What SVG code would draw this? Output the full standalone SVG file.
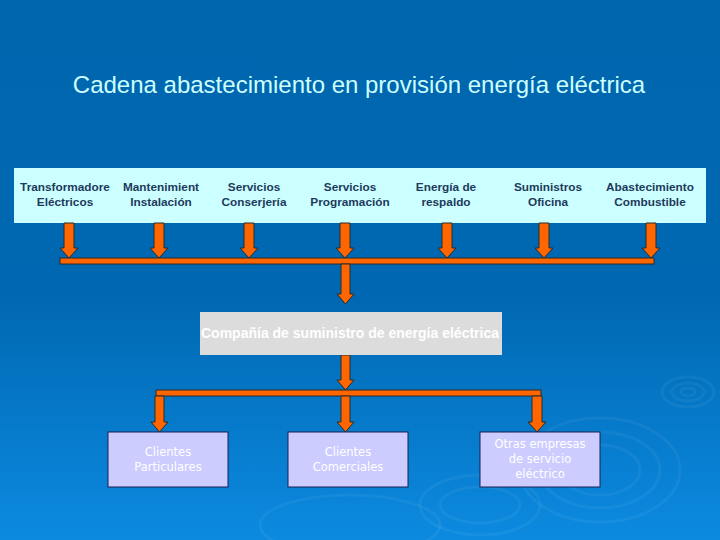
<svg xmlns="http://www.w3.org/2000/svg" width="720" height="540" viewBox="0 0 720 540">
<defs>
<linearGradient id="bg" x1="0" y1="0" x2="0" y2="1">
<stop offset="0" stop-color="#0066AE"/>
<stop offset="0.55" stop-color="#0068B2"/>
<stop offset="1" stop-color="#0C8AE0"/>
</linearGradient>
<style>
.title{font-family:"Liberation Sans",Arial,sans-serif;font-size:24px;fill:#CCFFFF;text-anchor:middle}
.top{font-family:"Liberation Sans",Arial,sans-serif;font-size:11.8px;font-weight:bold;fill:#1E3A5C;text-anchor:middle}
.comp{font-family:"Liberation Sans",Arial,sans-serif;font-size:14px;font-weight:bold;fill:#FFFFFF;text-anchor:middle}
.cli{font-family:"DejaVu Sans",Verdana,sans-serif;font-size:11.5px;fill:#FFFFFF;text-anchor:middle}
.arr{fill:#FF6600;stroke:#2A2A2A;stroke-width:1}
.cbox{fill:#CCCCFF;stroke:#1A2050;stroke-width:1}
.rip{fill:none;stroke:#FFFFFF;stroke-opacity:0.05;stroke-width:3}
</style>
</defs>
<rect x="0" y="0" width="720" height="540" fill="url(#bg)"/>
<g id="ripples">
<ellipse class="rip" cx="688" cy="392" rx="26" ry="15"/>
<ellipse class="rip" cx="688" cy="392" rx="16" ry="9"/>
<ellipse class="rip" cx="688" cy="392" rx="7" ry="4"/>
<ellipse class="rip" cx="600" cy="470" rx="80" ry="52"/>
<ellipse class="rip" cx="600" cy="470" rx="60" ry="38"/>
<ellipse class="rip" cx="600" cy="470" rx="40" ry="25"/>
<ellipse class="rip" cx="480" cy="505" rx="60" ry="30"/>
<ellipse class="rip" cx="480" cy="505" rx="40" ry="18"/>
<ellipse class="rip" cx="350" cy="525" rx="90" ry="30"/>
</g>
<text class="title" x="359" y="93">Cadena abastecimiento en provisión energía eléctrica</text>
<g id="proveedores">
<rect x="14" y="168" width="692" height="55" fill="#CCFFFF"/>
<g id="n-transformadores"><text class="top" x="65" y="191">Transformadore</text><text class="top" x="65" y="206">Eléctricos</text></g>
<g id="n-mantenimiento"><text class="top" x="161" y="191">Mantenimient</text><text class="top" x="161" y="206">Instalación</text></g>
<g id="n-conserjeria"><text class="top" x="254" y="191">Servicios</text><text class="top" x="254" y="206">Conserjería</text></g>
<g id="n-programacion"><text class="top" x="350" y="191">Servicios</text><text class="top" x="350" y="206">Programación</text></g>
<g id="n-respaldo"><text class="top" x="446" y="191">Energía de</text><text class="top" x="446" y="206">respaldo</text></g>
<g id="n-oficina"><text class="top" x="548" y="191">Suministros</text><text class="top" x="548" y="206">Oficina</text></g>
<g id="n-combustible"><text class="top" x="650" y="191">Abastecimiento</text><text class="top" x="650" y="206">Combustible</text></g>
</g>
<g id="connectors">
<path class="arr" d="M64,223 H74 V248 H78 L69,258 L60,248 H64 Z"/>
<path class="arr" d="M154,223 H164 V248 H168 L159,258 L150,248 H154 Z"/>
<path class="arr" d="M244,223 H254 V248 H258 L249,258 L240,248 H244 Z"/>
<path class="arr" d="M340,223 H350 V248 H354 L345,258 L336,248 H340 Z"/>
<path class="arr" d="M442,223 H452 V248 H456 L447,258 L438,248 H442 Z"/>
<path class="arr" d="M539,223 H549 V248 H553 L544,258 L535,248 H539 Z"/>
<path class="arr" d="M646,223 H656 V248 H660 L651,258 L642,248 H646 Z"/>
<rect class="arr" x="60" y="258" width="594" height="6"/>
<path class="arr" d="M341,264 H350 V294 H354 L345.5,304 L337,294 H341 Z"/>
<path class="arr" d="M341,355 H350 V380 H354 L345.5,390 L337,380 H341 Z"/>
<rect class="arr" x="156" y="390" width="385" height="6"/>
<path class="arr" d="M155,396 H164 V422 H168 L159.5,432 L151,422 H155 Z"/>
<path class="arr" d="M341,396 H350 V422 H354 L345.5,432 L337,422 H341 Z"/>
<path class="arr" d="M532,396 H542 V422 H546 L537,432 L528,422 H532 Z"/>
</g>
<g id="n-compania">
<rect x="200" y="312" width="302" height="43" fill="#DCDCDC"/>
<text class="comp" x="350" y="338">Compañía de suministro de energía eléctrica</text>
</g>
<g id="n-particulares">
<rect class="cbox" x="108" y="432" width="120" height="55"/>
<text class="cli" x="168" y="456">Clientes</text>
<text class="cli" x="168" y="471">Particulares</text>
</g>
<g id="n-comerciales">
<rect class="cbox" x="288" y="432" width="120" height="55"/>
<text class="cli" x="348" y="456">Clientes</text>
<text class="cli" x="348" y="471">Comerciales</text>
</g>
<g id="n-otras">
<rect class="cbox" x="480" y="432" width="120" height="55"/>
<text class="cli" x="540" y="448">Otras empresas</text>
<text class="cli" x="540" y="463">de servicio</text>
<text class="cli" x="540" y="478">eléctrico</text>
</g>
</svg>
